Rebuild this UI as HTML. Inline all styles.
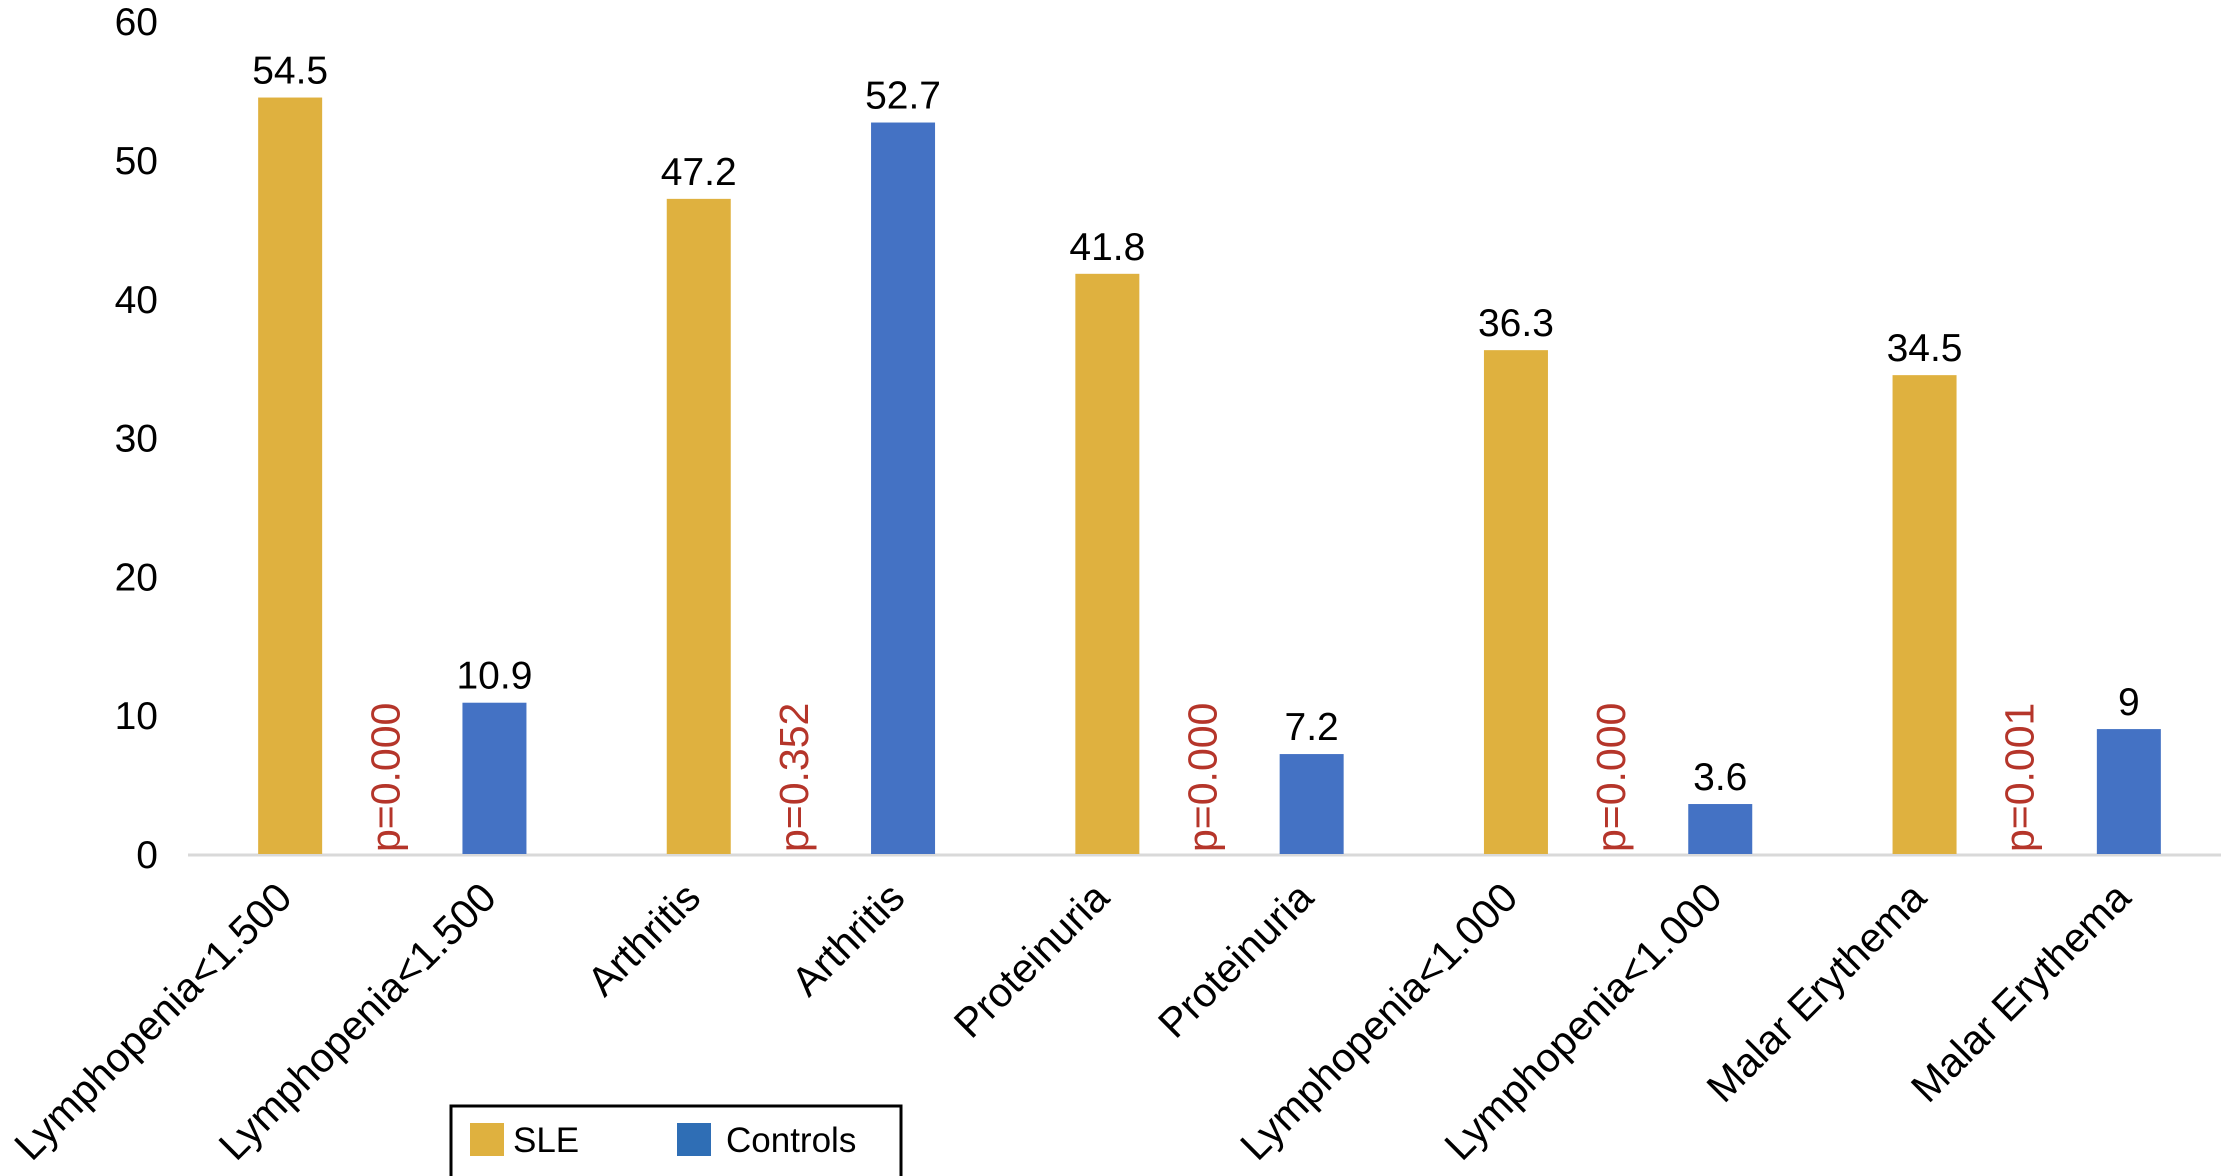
<!DOCTYPE html>
<html><head><meta charset="utf-8"><style>
html,body{margin:0;padding:0;background:#fff;}
svg{display:block;font-family:"Liberation Sans",sans-serif;}
</style></head><body>
<svg id="chart" width="2221" height="1176" viewBox="0 0 2221 1176"></svg>
<script>
const categories = ["Lymphopenia<1.500","Arthritis","Proteinuria","Lymphopenia<1.000","Malar Erythema"];
const sleValues = [54.5,47.2,41.8,36.3,34.5];
const controlValues = [10.9,52.7,7.2,3.6,9];
const sleLabels = ["54.5","47.2","41.8","36.3","34.5"];
const controlLabels = ["10.9","52.7","7.2","3.6","9"];
const pValues = ["p=0.000","p=0.352","p=0.000","p=0.000","p=0.001"];
const yTicks = [0,10,20,30,40,50,60];

const NS="http://www.w3.org/2000/svg";
const svg=document.getElementById('chart');
const x0=188, slot=204.3, baseY=854, unit=13.88, barW=64;
function y(v){return baseY - v*unit;}
function slotCenter(i){return x0 + slot*(i+0.5);}
function mk(tag,attrs,parent){const e=document.createElementNS(NS,tag);for(const k in attrs)e.setAttribute(k,attrs[k]);(parent||svg).appendChild(e);return e;}

yTicks.forEach(t=>{
  const e=mk('text',{x:158,y:y(t)+14,'text-anchor':'end','font-size':39,fill:'#000'});
  e.textContent=t;
  
  
});

const axis=mk('line',{x1:x0,x2:2221,y1:baseY+1,y2:baseY+1,stroke:'#d9d9d9','stroke-width':3});



categories.forEach((c,i)=>{
  const sx=slotCenter(2*i), cx=slotCenter(2*i+1);
  const b1=mk('rect',{x:sx-barW/2,y:y(sleValues[i]),width:barW,height:sleValues[i]*unit,fill:'#DFB13F'});
  
  
  const b2=mk('rect',{x:cx-barW/2,y:y(controlValues[i]),width:barW,height:controlValues[i]*unit,fill:'#4472C4'});
  
  
  const l1=mk('text',{x:sx,y:y(sleValues[i])-14,'text-anchor':'middle','font-size':39,fill:'#000'});
  l1.textContent=sleLabels[i];
  
  
  const l2=mk('text',{x:cx,y:y(controlValues[i])-14,'text-anchor':'middle','font-size':39,fill:'#000'});
  l2.textContent=controlLabels[i];
  
  
  const px=(sx+cx)/2-6;
  const p=mk('text',{x:px+13,y:baseY-2,'font-size':41,fill:'#B5352A',transform:`rotate(-90 ${px+13} ${baseY-2})`});
  p.textContent=pValues[i];
  
  
  [sx,cx].forEach(x=>{
    const ax=x+4, ay=900;
    const t=mk('text',{x:ax,y:ay,'text-anchor':'end','font-size':41,fill:'#000',transform:`rotate(-45 ${ax} ${ay})`});
    t.textContent=c;
    
    
  });
});

const g=mk('g',{});


const box=mk('rect',{x:451,y:1106,width:450,height:72,fill:'#fff',stroke:'#000','stroke-width':3},g);


const s1=mk('rect',{x:470,y:1123,width:34,height:33,fill:'#DFB13F'},g);


const t1=mk('text',{x:513,y:1152,'font-size':35,fill:'#000'},g);
t1.textContent='SLE';


const s2=mk('rect',{x:677,y:1123,width:34,height:33,fill:'#2F6EB5'},g);


const t2=mk('text',{x:726,y:1152,'font-size':35,fill:'#000'},g);
t2.textContent='Controls';


</script>
</body></html>
